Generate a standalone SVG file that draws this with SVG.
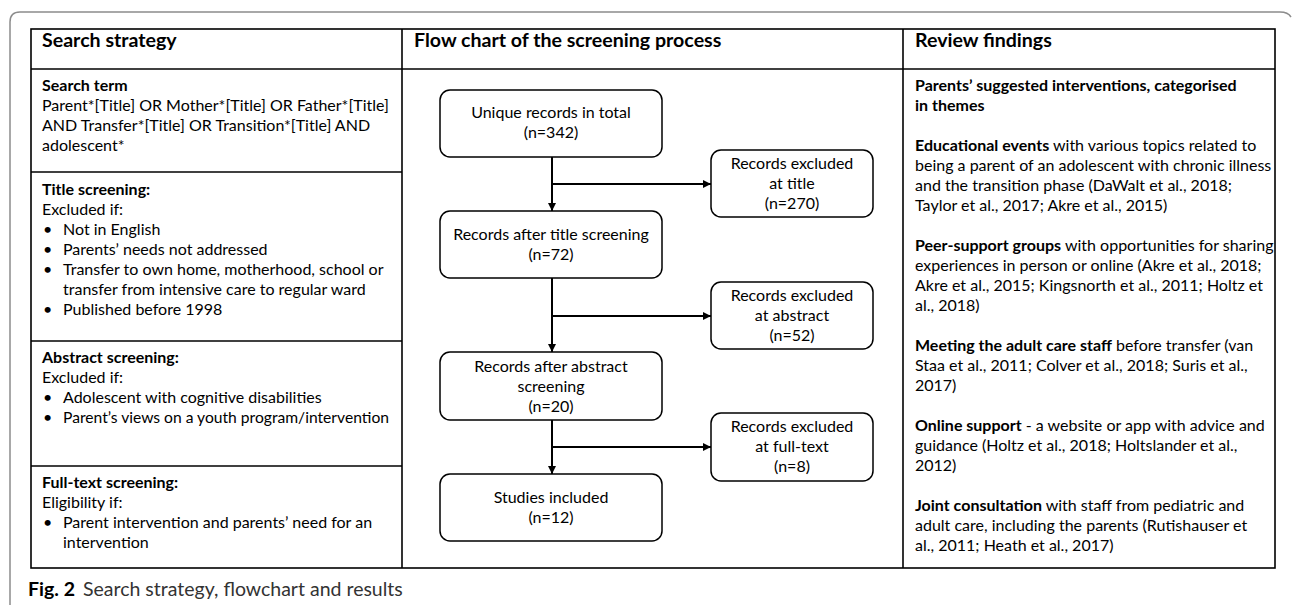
<svg xmlns="http://www.w3.org/2000/svg" width="1292" height="605" viewBox="0 0 1292 605">
<style>
text{font-family:Lato,"Open Sans","Liberation Sans",sans-serif;fill:#000}
.h{font-size:19.6px;font-weight:bold}
.t{font-size:16px}
.b{font-weight:bold}
.c{text-anchor:middle}
.line{stroke:#000;stroke-width:1.6;fill:none}
.box{fill:#fff;stroke:#000;stroke-width:1.5}
.conn{stroke:#000;stroke-width:2;fill:none}
.cap{font-size:19.5px;fill:#333}
</style>
<defs>
<marker id="arr" viewBox="0 0 10 10" refX="10" refY="5" markerWidth="9" markerHeight="8" markerUnits="userSpaceOnUse" orient="auto">
<path d="M0,0 L10,5 L0,10 z" fill="#000"/>
</marker>
</defs>
<rect width="1292" height="605" fill="#fff"/>
<path d="M10,605 V22 Q10,12 20,12 H1280 Q1288,12 1291,17" fill="none" stroke="#8c8c8c" stroke-width="1.5"/>

<g id="table">
<rect class="line" x="31" y="29" width="1244" height="539"/>
<line class="line" x1="31" y1="69" x2="1275" y2="69"/>
<line class="line" x1="402" y1="29" x2="402" y2="568"/>
<line class="line" x1="903" y1="29" x2="903" y2="568"/>
<line class="line" x1="31" y1="172" x2="402" y2="172"/>
<line class="line" x1="31" y1="341" x2="402" y2="341"/>
<line class="line" x1="31" y1="466" x2="402" y2="466"/>
</g>

<g id="headers">
<text class="h" x="42" y="47">Search strategy</text>
<text class="h" x="414" y="47">Flow chart of the screening process</text>
<text class="h" x="915" y="47">Review findings</text>
</g>

<g id="search-term">
<text class="t b" x="42" y="91">Search term</text>
<text class="t" x="42" y="111">Parent*[Title] OR Mother*[Title] OR Father*[Title]</text>
<text class="t" x="42" y="131">AND Transfer*[Title] OR Transition*[Title] AND</text>
<text class="t" x="42" y="151">adolescent*</text>
</g>

<g id="title-screening">
<text class="t b" x="42" y="195">Title screening:</text>
<text class="t" x="42" y="215">Excluded if:</text>
<text class="t" x="43" y="235">•</text><text class="t" x="63" y="235">Not in English</text>
<text class="t" x="43" y="255">•</text><text class="t" x="63" y="255">Parents’ needs not addressed</text>
<text class="t" x="43" y="275">•</text><text class="t" x="63" y="275">Transfer to own home, motherhood, school or</text>
<text class="t" x="63" y="295">transfer from intensive care to regular ward</text>
<text class="t" x="43" y="315">•</text><text class="t" x="63" y="315">Published before 1998</text>
</g>

<g id="abstract-screening">
<text class="t b" x="42" y="363">Abstract screening:</text>
<text class="t" x="42" y="383">Excluded if:</text>
<text class="t" x="43" y="403">•</text><text class="t" x="63" y="403">Adolescent with cognitive disabilities</text>
<text class="t" x="43" y="423">•</text><text class="t" x="63" y="423" textLength="326" lengthAdjust="spacingAndGlyphs">Parent’s views on a youth program/intervention</text>
</g>

<g id="fulltext-screening">
<text class="t b" x="42" y="488">Full-text screening:</text>
<text class="t" x="42" y="508">Eligibility if:</text>
<text class="t" x="43" y="528">•</text><text class="t" x="63" y="528">Parent intervention and parents’ need for an</text>
<text class="t" x="63" y="548">intervention</text>
</g>

<g id="connectors">
<line class="conn" x1="552" y1="157" x2="552" y2="211" marker-end="url(#arr)"/>
<line class="conn" x1="552" y1="184" x2="711" y2="184" marker-end="url(#arr)"/>
<line class="conn" x1="552" y1="278" x2="552" y2="352" marker-end="url(#arr)"/>
<line class="conn" x1="552" y1="316" x2="711" y2="316" marker-end="url(#arr)"/>
<line class="conn" x1="552" y1="420" x2="552" y2="474" marker-end="url(#arr)"/>
<line class="conn" x1="552" y1="447" x2="711" y2="447" marker-end="url(#arr)"/>
</g>

<g id="n-unique">
<rect class="box" x="440" y="90" width="222" height="67" rx="10"/>
<text class="t c" x="551" y="118">Unique records in total</text>
<text class="t c" x="551" y="138">(n=342)</text>
</g>
<g id="n-excl-title">
<rect class="box" x="711" y="150" width="162" height="67" rx="10"/>
<text class="t c" x="792" y="169">Records excluded</text>
<text class="t c" x="792" y="189">at title</text>
<text class="t c" x="792" y="209">(n=270)</text>
</g>
<g id="n-after-title">
<rect class="box" x="440" y="211" width="222" height="67" rx="10"/>
<text class="t c" x="551" y="240">Records after title screening</text>
<text class="t c" x="551" y="260">(n=72)</text>
</g>
<g id="n-excl-abstract">
<rect class="box" x="711" y="282" width="162" height="67" rx="10"/>
<text class="t c" x="792" y="301">Records excluded</text>
<text class="t c" x="792" y="321">at abstract</text>
<text class="t c" x="792" y="341">(n=52)</text>
</g>
<g id="n-after-abstract">
<rect class="box" x="440" y="352" width="222" height="68" rx="10"/>
<text class="t c" x="551" y="372">Records after abstract</text>
<text class="t c" x="551" y="392">screening</text>
<text class="t c" x="551" y="412">(n=20)</text>
</g>
<g id="n-excl-fulltext">
<rect class="box" x="711" y="413" width="162" height="68" rx="10"/>
<text class="t c" x="792" y="432">Records excluded</text>
<text class="t c" x="792" y="452">at full-text</text>
<text class="t c" x="792" y="472">(n=8)</text>
</g>
<g id="n-included">
<rect class="box" x="440" y="474" width="222" height="67" rx="10"/>
<text class="t c" x="551" y="503">Studies included</text>
<text class="t c" x="551" y="523">(n=12)</text>
</g>

<g id="findings">
<text class="t b" x="915" y="91">Parents’ suggested interventions, categorised</text>
<text class="t b" x="915" y="111">in themes</text>
<text class="t" x="915" y="151"><tspan class="b">Educational events</tspan> with various topics related to</text>
<text class="t" x="915" y="171">being a parent of an adolescent with chronic illness</text>
<text class="t" x="915" y="191">and the transition phase  (DaWalt et al., 2018;</text>
<text class="t" x="915" y="211">Taylor et al., 2017; Akre et al., 2015)</text>
<text class="t" x="915" y="251"><tspan class="b">Peer-support groups</tspan> with opportunities for sharing</text>
<text class="t" x="915" y="271">experiences in person or online (Akre et al., 2018;</text>
<text class="t" x="915" y="291">Akre et al., 2015; Kingsnorth et al., 2011; Holtz et</text>
<text class="t" x="915" y="311">al., 2018)</text>
<text class="t" x="915" y="351"><tspan class="b">Meeting the adult care staff</tspan> before transfer (van</text>
<text class="t" x="915" y="371">Staa et al., 2011; Colver et al., 2018; Suris et al.,</text>
<text class="t" x="915" y="391">2017)</text>
<text class="t" x="915" y="431"><tspan class="b">Online support</tspan> - a website or app with advice and</text>
<text class="t" x="915" y="451">guidance (Holtz et al., 2018; Holtslander et al.,</text>
<text class="t" x="915" y="471">2012)</text>
<text class="t" x="915" y="511"><tspan class="b">Joint consultation</tspan> with staff from pediatric and</text>
<text class="t" x="915" y="531">adult care, including the parents (Rutishauser et</text>
<text class="t" x="915" y="551">al., 2011; Heath et al., 2017)</text>
</g>

<g id="caption">
<text class="cap" x="28" y="596"><tspan font-weight="bold" fill="#000">Fig. 2</tspan><tspan dx="8">Search strategy, flowchart and results</tspan></text>
</g>
</svg>
